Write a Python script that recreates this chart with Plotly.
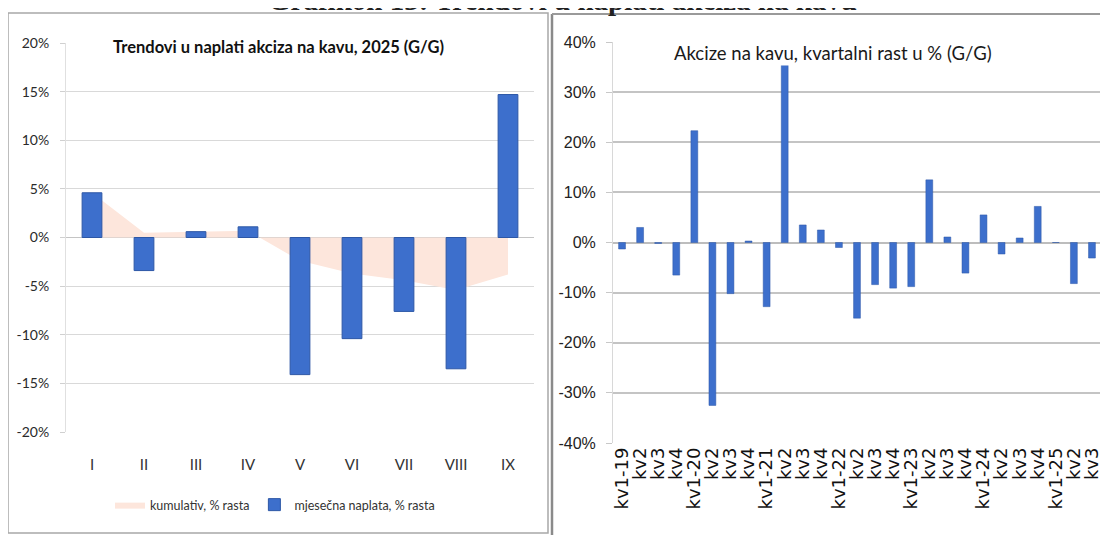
import plotly.graph_objects as go

W, H = 1108, 535
OFF = 8  # page body margin offset of the plot div

# ---- data: left panel (monthly 2025) ----
months = ["I", "II", "III", "IV", "V", "VI", "VII", "VIII", "IX"]
monthly_growth = [4.6, -3.4, 0.6, 1.1, -14.1, -10.4, -7.6, -13.5, 14.7]
cumulative_growth = [4.6, 0.5, 0.6, 0.7, -2.4, -3.7, -4.4, -5.4, -3.8]
left_ticks = [20, 15, 10, 5, 0, -5, -10, -15, -20]
left_ticktext = ["20%", "15%", "10%", "5%", "0%", "-5%", "-10%", "-15%", "-20%"]

# ---- data: right panel (quarterly) ----
quarters = ["kv1-19", "kv2", "kv3", "kv4",
            "kv1-20", "kv2", "kv3", "kv4",
            "kv1-21", "kv2", "kv3", "kv4",
            "kv1-22", "kv2", "kv3", "kv4",
            "kv1-23", "kv2", "kv3", "kv4",
            "kv1-24", "kv2", "kv3", "kv4",
            "kv1-25", "kv2", "kv3"]
quarterly_growth = [-1.3, 3.0, -0.2, -6.5,
                    22.3, -32.5, -10.2, 0.3,
                    -12.8, 35.4, 3.5, 2.5,
                    -1.0, -15.1, -8.4, -9.1,
                    -8.8, 12.5, 1.1, -6.1,
                    5.5, -2.3, 0.9, 7.2,
                    0.0, -8.2, -3.1]
right_ticks = [40, 30, 20, 10, 0, -10, -20, -30, -40]
right_ticktext = ["40%", "30%", "20%", "10%", "0%", "-10%", "-20%", "-30%", "-40%"]

# unique category keys for the quarterly axis (labels repeat)
q_keys = list(range(len(quarters)))

def px(x):
    return (x - OFF) / W

def py(y):
    return 1 - (y - OFF) / H

LEFTF = "Lato, Liberation Sans, sans-serif"
REG = "Liberation Sans, Arial, sans-serif"
BLUE = "#3d6fcc"
BLUE_LINE = "#2d57a6"

fig = go.Figure()

# cumulative area (base axes, drawn beneath)
fig.add_trace(go.Scatter(
    x=months, y=cumulative_growth, xaxis="x", yaxis="y",
    mode="lines", line=dict(width=0, color="#fde6dc"),
    fill="tozeroy", fillcolor="#fde6dc",
    name="kumulativ, % rasta", showlegend=True, hoverinfo="skip"))

# monthly bars on overlaying axes (drawn above area)
fig.add_trace(go.Bar(
    x=months, y=monthly_growth, xaxis="x3", yaxis="y3",
    marker=dict(color=BLUE, line=dict(color=BLUE_LINE, width=1)),
    name="mjesečna naplata, % rasta", showlegend=True))

# quarterly bars
fig.add_trace(go.Bar(
    x=q_keys, y=quarterly_growth, xaxis="x2", yaxis="y2",
    marker=dict(color=BLUE, line=dict(color=BLUE_LINE, width=0.5)),
    showlegend=False))

left_xdom = [px(66), px(534)]
left_ydom = [py(432), py(43)]
right_xdom = [px(613), px(1101)]
right_ydom = [py(443), py(42)]
cat_range = [-0.5, len(months) - 0.5]

fig.update_layout(
    width=W, height=H,
    margin=dict(l=0, r=0, t=0, b=0, autoexpand=False),
    paper_bgcolor="white", plot_bgcolor="rgba(0,0,0,0)",
    bargap=0.62,
    showlegend=True,
    legend=dict(orientation="h", x=px(110), y=py(505), xanchor="left", yanchor="middle",
                font=dict(family=LEFTF, size=12.5, color="#333"),
                itemwidth=30, traceorder="normal", bgcolor="rgba(0,0,0,0)"),
    xaxis=dict(domain=left_xdom, type="category", categoryorder="array", categoryarray=months,
               range=cat_range, automargin=False,
               tickfont=dict(family=LEFTF, size=15, color="#333"),
               showgrid=False, showline=False, ticks="", ticklabelstandoff=22,
               anchor="y"),
    yaxis=dict(domain=left_ydom, range=[-20, 20], tickvals=left_ticks, ticktext=left_ticktext,
               automargin=False,
               tickfont=dict(family=LEFTF, size=14, color="#2a2a2a"),
               showgrid=True, gridcolor="#d9d9d9", gridwidth=1.3,
               zeroline=True, zerolinecolor="#c4c4c4", zerolinewidth=1.4,
               showline=True, linecolor="#e0e0e0", ticks="outside", ticklen=5, tickcolor="#d0d0d0",
               ticklabelstandoff=8, anchor="x"),
    xaxis3=dict(overlaying="x", type="category", categoryorder="array", categoryarray=months,
                range=cat_range, visible=False, anchor="y3", automargin=False),
    yaxis3=dict(overlaying="y", range=[-20, 20], visible=False, anchor="x3", automargin=False),
    xaxis2=dict(domain=right_xdom, type="category", tickvals=q_keys, ticktext=quarters,
                automargin=False,
                tickangle=-90, tickfont=dict(family="DejaVu Sans", size=18, color="#111"),
                showgrid=False, showline=False, ticks="", anchor="y2"),
    yaxis2=dict(domain=right_ydom, range=[-40, 40], tickvals=right_ticks, ticktext=right_ticktext,
                automargin=False,
                tickfont=dict(family=REG, size=16, color="#222"),
                showgrid=True, gridcolor="#c4c4c4", gridwidth=1.8,
                zeroline=True, zerolinecolor="#bdbdbd", zerolinewidth=1.8,
                showline=True, linecolor="#d8d8d8", ticks="outside", ticklen=6, tickcolor="#c8c8c8",
                ticklabelstandoff=7, anchor="x2"),
)

# panel frames
fig.add_shape(type="rect", xref="paper", yref="paper",
              x0=px(8), x1=px(548), y0=py(533), y1=py(13),
              line=dict(color="#a8a8a8", width=1.5), fillcolor="rgba(0,0,0,0)", layer="below")
fig.add_shape(type="line", xref="paper", yref="paper",
              x0=px(552), x1=px(552), y0=py(540), y1=py(14),
              line=dict(color="#8a8a8a", width=2.5))
fig.add_shape(type="line", xref="paper", yref="paper",
              x0=px(552), x1=px(1116), y0=py(14), y1=py(14),
              line=dict(color="#9a9a9a", width=2))

# in-chart titles
fig.add_annotation(xref="paper", yref="paper", x=px(278), y=py(47),
                   text="<b>Trendovi u naplati akciza na kavu, 2025 (G/G)</b>",
                   showarrow=False, xanchor="center", yanchor="middle",
                   font=dict(family=LEFTF, size=16.5, color="#111"), bgcolor="white")
fig.add_annotation(xref="paper", yref="paper", x=px(833), y=py(53),
                   text="Akcize na kavu, kvartalni rast u % (G/G)",
                   showarrow=False, xanchor="center", yanchor="middle",
                   font=dict(family=LEFTF, size=18.5, color="#1a1a1a"), bgcolor="white")

# cut-off figure caption at the very top
fig.add_annotation(xref="paper", yref="paper", x=px(562), y=py(18.5),
                   text="<b>Grafikon 13: Trendovi u naplati akciza na kavu</b>",
                   showarrow=False, xanchor="center", yanchor="bottom",
                   font=dict(family="Liberation Serif", size=29, color="#222"))

fig.write_html("out.html")
